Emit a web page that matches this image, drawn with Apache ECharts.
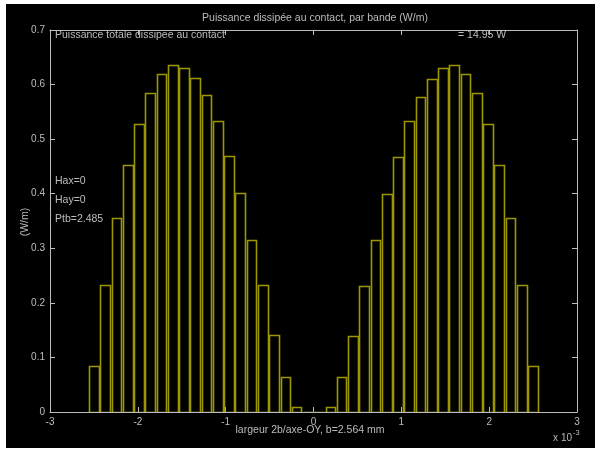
<!DOCTYPE html>
<html>
<head>
<meta charset="utf-8">
<script src="https://cdn.jsdelivr.net/npm/echarts@6/dist/echarts.min.js"></script>
<style>
  html, body { margin: 0; padding: 0; background: #ffffff; width: 602px; height: 452px; overflow: hidden; }
  #chart { position: absolute; left: 6px; top: 4px; width: 589px; height: 444px; }
</style>
</head>
<body>
<div id="chart"></div>
<script>
// Contact half-width b (mm) and number of bands across the contact width 2b
const halfWidth = 2.564;
const bandCount = 40;

// Power dissipated per band (W/m), from x = -b to x = +b
const bandPower = [
  0.085, 0.232, 0.355, 0.453, 0.527, 0.584, 0.620, 0.636, 0.630, 0.612,
  0.580, 0.533, 0.469, 0.401, 0.316, 0.232, 0.141, 0.065, 0.009, 0.000,
  0.000, 0.009, 0.065, 0.140, 0.230, 0.316, 0.399, 0.468, 0.533, 0.578,
  0.610, 0.630, 0.636, 0.620, 0.584, 0.527, 0.453, 0.355, 0.232, 0.085
];

const xTicks = [-3, -2, -1, 0, 1, 2, 3];
const yTicks = [0, 0.1, 0.2, 0.3, 0.4, 0.5, 0.6, 0.7];

const titleText = 'Puissance dissipée au contact, par bande (W/m)';
const totalLabel = 'Puissance totale dissipee au contact';
const totalValue = '= 14.95 W';
const sideNotes = ['Hax=0', 'Hay=0', 'Ptb=2.485'];
const xName = 'largeur 2b/axe-OY, b=2.564 mm';
const yName = '(W/m)';

// Band edges [x0, x1, power]
const bandWidth = 2 * halfWidth / bandCount;
const bands = bandPower.map((p, i) => [-halfWidth + i * bandWidth, -halfWidth + (i + 1) * bandWidth, p]);

const axisColor = '#bdbdbd';
const textColor = '#bcbcbc';
const barColor = '#9c9700';
const font = 'Liberation Sans, Arial, sans-serif';
const textFont = '10.5px ' + font;

const chart = echarts.init(document.getElementById('chart'), null, { renderer: 'canvas' });

const axisCommon = {
  type: 'value',
  axisLine: { show: true, onZero: false, lineStyle: { color: axisColor, width: 1 } },
  axisTick: { show: true, inside: true, length: 5, lineStyle: { color: axisColor } },
  splitLine: { show: false }
};

chart.setOption({
  backgroundColor: '#000000',
  animation: false,
  grid: { left: 44, top: 26, width: 527, height: 382, containLabel: false },
  xAxis: [
    Object.assign({}, axisCommon, {
      position: 'bottom', min: xTicks[0], max: xTicks[xTicks.length - 1], interval: 1,
      axisLabel: { color: textColor, fontSize: 10, fontFamily: font, margin: 5 }
    }),
    Object.assign({}, axisCommon, {
      position: 'top', min: xTicks[0], max: xTicks[xTicks.length - 1], interval: 1,
      axisLabel: { show: false }
    })
  ],
  yAxis: [
    Object.assign({}, axisCommon, {
      position: 'left', min: yTicks[0], max: yTicks[yTicks.length - 1], interval: 0.1,
      axisLabel: { color: textColor, fontSize: 10, fontFamily: font, margin: 5,
        formatter: v => (Math.round(v * 10) / 10).toString() }
    }),
    Object.assign({}, axisCommon, {
      position: 'right', min: yTicks[0], max: yTicks[yTicks.length - 1], interval: 0.1,
      axisLabel: { show: false }
    })
  ],
  series: [{
    type: 'custom',
    xAxisIndex: 0,
    yAxisIndex: 0,
    data: bands,
    encode: { x: [0, 1], y: 2 },
    clip: true,
    renderItem: function (params, api) {
      const x0 = api.value(0), x1 = api.value(1), p = api.value(2);
      const inset = (x1 - x0) * 0.07;
      const topLeft = api.coord([x0 + inset, p]);
      const bottomRight = api.coord([x1 - inset, 0]);
      return {
        type: 'rect',
        shape: {
          x: Math.round(topLeft[0]) + 0.5,
          y: Math.round(topLeft[1]) + 0.5,
          width: Math.round(bottomRight[0]) - Math.round(topLeft[0]),
          height: Math.round(bottomRight[1]) - Math.round(topLeft[1])
        },
        style: { fill: 'rgba(0,0,0,0)', stroke: barColor, lineWidth: 1.6 }
      };
    }
  }],
  graphic: [
    { type: 'text', x: 309, y: 14,
      style: { text: titleText, fill: textColor, font: textFont, align: 'center', verticalAlign: 'middle' } },
    { type: 'text', x: 49, y: 26, style: { text: totalLabel, fill: textColor, font: textFont } },
    { type: 'text', x: 452, y: 26, style: { text: totalValue, fill: textColor, font: textFont } },
    { type: 'text', x: 49, y: 172, style: { text: sideNotes[0], fill: textColor, font: textFont } },
    { type: 'text', x: 49, y: 191, style: { text: sideNotes[1], fill: textColor, font: textFont } },
    { type: 'text', x: 49, y: 210, style: { text: sideNotes[2], fill: textColor, font: textFont } },
    { type: 'text', x: 19, y: 218, rotation: Math.PI / 2,
      style: { text: yName, fill: textColor, font: textFont, align: 'center', verticalAlign: 'middle' } },
    { type: 'text', x: 304, y: 426,
      style: { text: xName, fill: textColor, font: textFont, align: 'center', verticalAlign: 'middle' } },
    { type: 'text', x: 566, y: 434,
      style: { text: 'x 10', fill: textColor, font: '10px ' + font, align: 'right', verticalAlign: 'middle' } },
    { type: 'text', x: 567, y: 429,
      style: { text: '-3', fill: textColor, font: '7.5px ' + font, align: 'left', verticalAlign: 'middle' } }
  ]
});
</script>
</body>
</html>
